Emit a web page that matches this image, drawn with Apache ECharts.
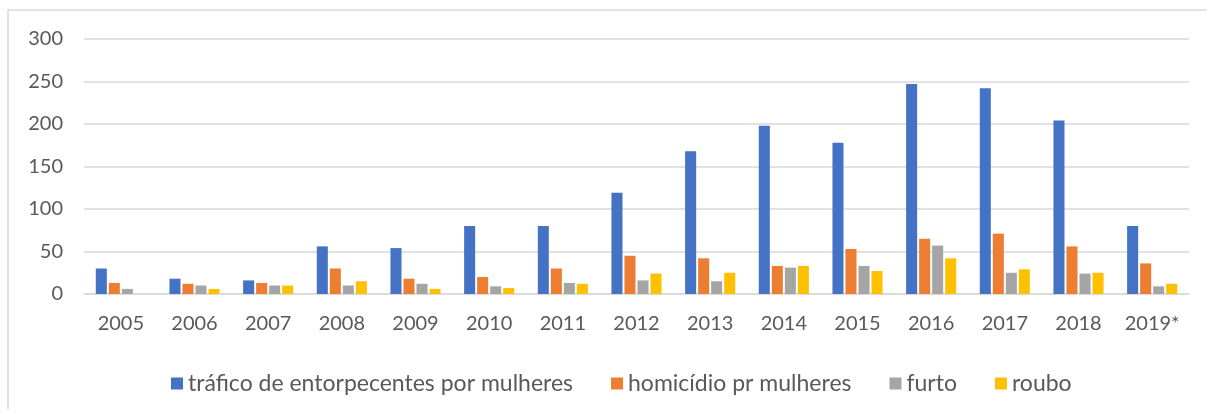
<!DOCTYPE html>
<html>
<head>
<meta charset="utf-8">
<script src="https://cdn.jsdelivr.net/npm/echarts@6/dist/echarts.min.js"></script>
<style>
  html, body { margin: 0; padding: 0; background: #fff; }
  #chart { width: 1207px; height: 409px; }
</style>
</head>
<body>
<div id="chart"></div>
<script>
const years = ['2005', '2006', '2007', '2008', '2009', '2010', '2011', '2012', '2013', '2014', '2015', '2016', '2017', '2018', '2019*'];
const trafico = [30, 18, 16, 56, 54, 80, 80, 119, 168, 198, 178, 247, 242, 204, 80];
const homicidio = [13, 12, 13, 30, 18, 20, 30, 45, 42, 33, 53, 65, 71, 56, 36];
const furto = [6, 10, 10, 10, 12, 9, 13, 16, 15, 31, 33, 57, 25, 24, 9];
const roubo = [0, 6, 10, 15, 6, 7, 12, 24, 25, 33, 27, 42, 29, 25, 12];
const seriesNames = ['tráfico de entorpecentes por mulheres', 'homicídio pr mulheres', 'furto', 'roubo'];
const colors = ['#4472C4', '#ED7D31', '#A5A5A5', '#FFC000'];

const textColor = '#595959';
const fontFamily = 'Lato, "Liberation Sans", sans-serif';

var myChart = echarts.init(document.getElementById('chart'));

const makeBar = (name, data) => ({
  name: name,
  type: 'bar',
  data: data,
  barGap: '18%',
  barCategoryGap: '32%'
});

myChart.setOption({
  animation: false,
  color: colors,
  textStyle: { fontFamily: fontFamily, color: textColor },
  graphic: [
    {
      // outer chart frame (right and bottom edges fall outside the picture)
      type: 'rect',
      shape: { x: 8, y: 10, width: 1400, height: 600 },
      style: { fill: 'none', stroke: '#d9d9d9', lineWidth: 1.5 },
      silent: true
    }
  ],
  grid: {
    left: 84,
    right: 18,
    top: 39,
    bottom: 115
  },
  legend: {
    data: seriesNames,
    left: 166,
    top: 367,
    icon: 'rect',
    itemWidth: 12,
    itemHeight: 12,
    itemGap: 38,
    textStyle: { fontSize: 23, color: textColor, fontFamily: fontFamily }
  },
  xAxis: {
    type: 'category',
    data: years,
    axisLine: { show: true, lineStyle: { color: '#d9d9d9', width: 1.5 } },
    axisTick: { show: false },
    axisLabel: { fontSize: 20, color: textColor, margin: 20, fontFamily: fontFamily }
  },
  yAxis: {
    type: 'value',
    min: 0,
    max: 300,
    interval: 50,
    axisLine: { show: false },
    axisTick: { show: false },
    axisLabel: { fontSize: 20, color: textColor, margin: 21, fontFamily: fontFamily },
    splitLine: { lineStyle: { color: '#d9d9d9', width: 1.5 } }
  },
  series: [
    makeBar(seriesNames[0], trafico),
    makeBar(seriesNames[1], homicidio),
    makeBar(seriesNames[2], furto),
    makeBar(seriesNames[3], roubo)
  ]
});
</script>
</body>
</html>
